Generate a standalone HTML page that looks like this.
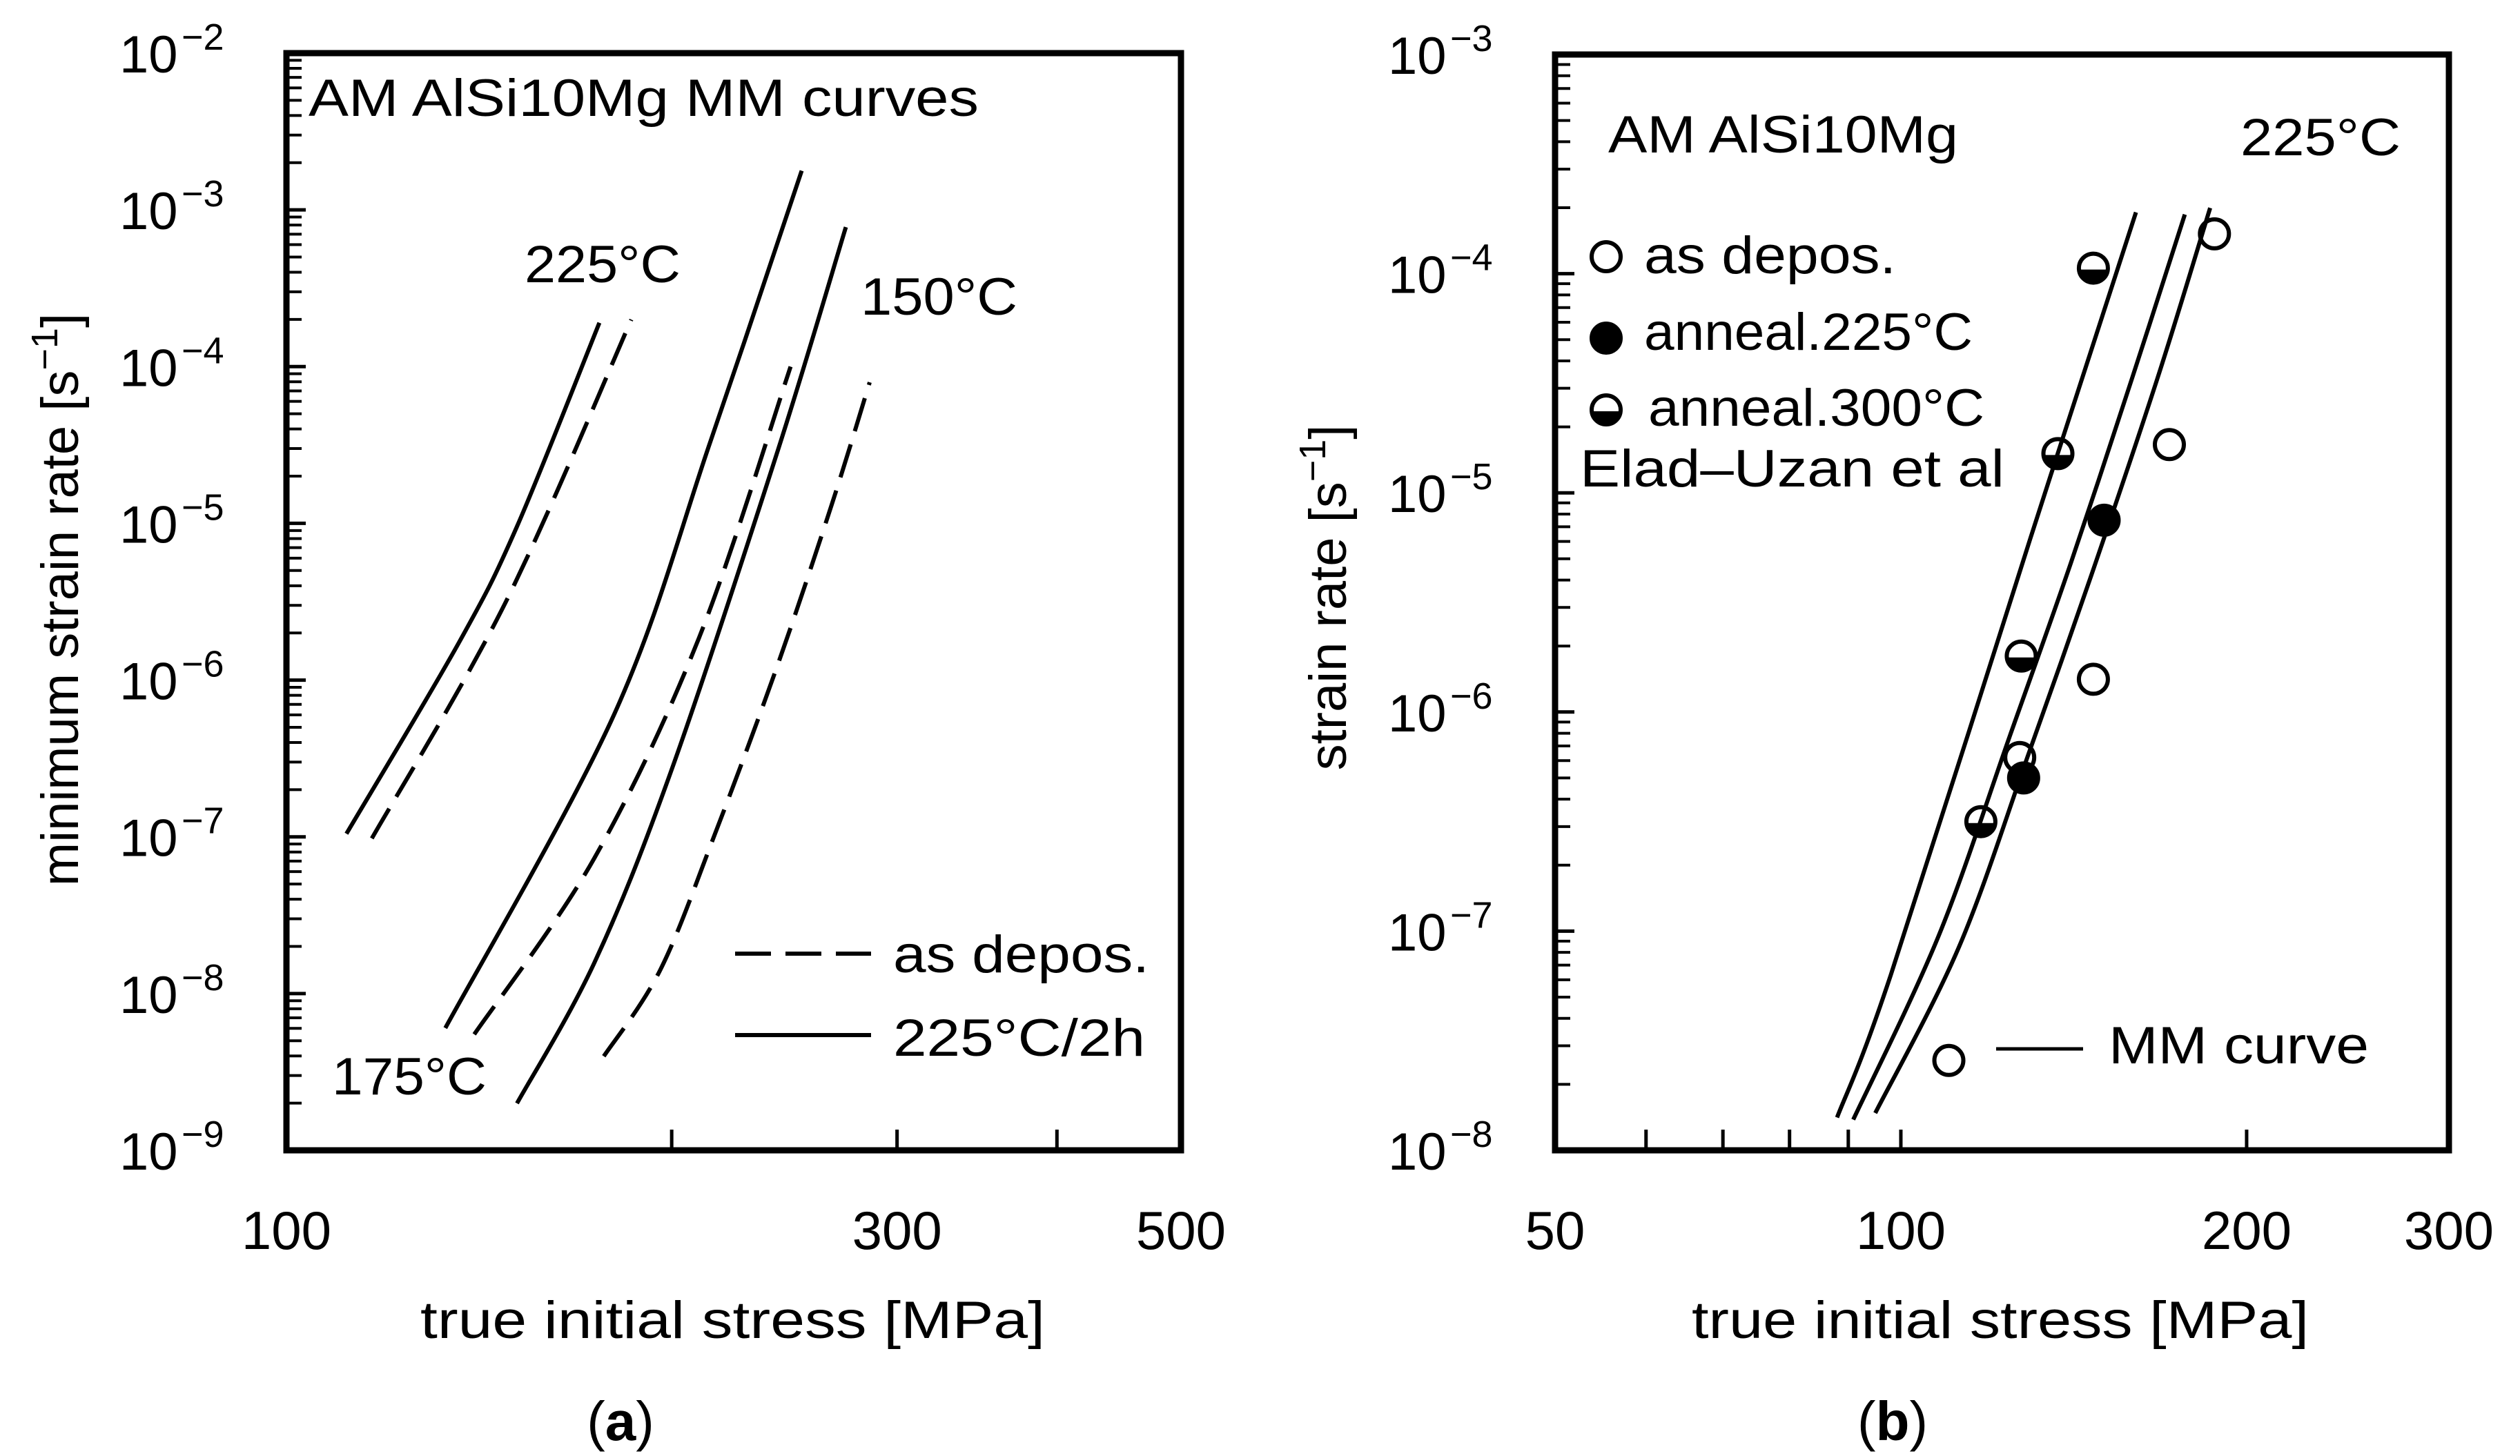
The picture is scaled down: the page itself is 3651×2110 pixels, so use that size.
<!DOCTYPE html>
<html><head><meta charset="utf-8"><style>
html,body{margin:0;padding:0;background:#fff;}
svg{display:block;}
text{font-family:"Liberation Sans",sans-serif;fill:#000;}
</style></head><body>
<svg id="fig" width="3651" height="2110" viewBox="0 0 3651 2110" xmlns="http://www.w3.org/2000/svg">
<rect width="3651" height="2110" fill="#fff"/>
<g id="pa"></g>
<g id="pb"></g>
</svg>
<script>
// ---------- Panel (a) data (log10 of strain rate) ----------
const aXTicks = [200, 300, 400];
const aXLabels = ["100", "300", "500"];
const aXLabelVals = [100, 300, 500];
const aYExps = [-2, -3, -4, -5, -6, -7, -8, -9];
const aSolid225Stress = [111.4, 136.4, 151.4, 175.6];
const aSolid225LogRate = [-6.98, -5.76, -5.02, -3.72];
const aDash225Stress = [116.6, 148.2, 186.0];
const aDash225LogRate = [-7.01, -5.51, -3.70];
const aSolid175Stress = [133.1, 180.3, 214.6, 252.7];
const aSolid175LogRate = [-8.22, -6.22, -4.47, -2.75];
const aDash175Stress = [140.2, 173.9, 210.1, 247.7];
const aDash175LogRate = [-8.26, -7.14, -5.73, -4.00];
const aSolid150Stress = [151.4, 174.1, 200.0, 242.4, 273.6];
const aSolid150LogRate = [-8.70, -7.80, -6.57, -4.52, -3.11];
const aDash150Stress = [177.0, 195.9, 216.0, 241.6, 266.5, 285.6];
const aDash150LogRate = [-8.40, -7.85, -6.99, -5.92, -4.89, -4.10];

// ---------- Panel (b) data ----------
const bXTicks = [60, 70, 80, 90, 100, 200];
const bXLabels = ["50", "100", "200", "300"];
const bXLabelVals = [50, 100, 200, 300];
const bYExps = [-3, -4, -5, -6, -7, -8];
const bCurve1Stress = [88.0, 98.0, 129.6, 160.2];
const bCurve1LogRate = [-7.85, -7.20, -5.21, -3.72];
const bCurve2Stress = [90.9, 107.9, 124.4, 140.6, 158.9, 176.7];
const bCurve2LogRate = [-7.86, -7.02, -6.11, -5.32, -4.48, -3.73];
const bCurve3Stress = [95.0, 112.4, 129.6, 146.4, 167.2, 185.9];
const bCurve3LogRate = [-7.83, -7.07, -6.17, -5.38, -4.48, -3.70];
const bOpenStress = [187.5, 171.3, 147.1, 126.9, 110.1];
const bOpenRate = [1.52e-4, 1.66e-5, 1.41e-6, 6.2e-7, 2.57e-8];
const bFilledStress = [150.3, 127.9];
const bFilledRate = [7.5e-6, 5.0e-7];
const bHalfStress = [147.1, 137.0, 127.3, 117.4];
const bHalfRate = [1.06e-4, 1.51e-5, 1.8e-6, 3.16e-7];

const NS = "http://www.w3.org/2000/svg";
function mk(parent, tag, attrs) {
  const e = document.createElementNS(NS, tag);
  for (const k in attrs) e.setAttribute(k, attrs[k]);
  parent.appendChild(e);
  return e;
}
function axes(x0, x1, y0, y1, xmin, xmax, ymin, ymax) {
  return {
    x: v => x0 + (Math.log10(v) - Math.log10(xmin)) / (Math.log10(xmax) - Math.log10(xmin)) * (x1 - x0),
    y: v => y1 - (Math.log10(v) - Math.log10(ymin)) / (Math.log10(ymax) - Math.log10(ymin)) * (y1 - y0)
  };
}
function smoothPath(pts) {
  let d = "M" + pts[0][0].toFixed(1) + "," + pts[0][1].toFixed(1);
  for (let i = 0; i < pts.length - 1; i++) {
    const p0 = pts[i - 1] || pts[i], p1 = pts[i], p2 = pts[i + 1], p3 = pts[i + 2] || pts[i + 1];
    const c1x = p1[0] + (p2[0] - p0[0]) / 6, c1y = p1[1] + (p2[1] - p0[1]) / 6;
    const c2x = p2[0] - (p3[0] - p1[0]) / 6, c2y = p2[1] - (p3[1] - p1[1]) / 6;
    d += " C" + c1x.toFixed(1) + "," + c1y.toFixed(1) + " " + c2x.toFixed(1) + "," + c2y.toFixed(1) + " " + p2[0].toFixed(1) + "," + p2[1].toFixed(1);
  }
  return d;
}
function txt(parent, x, y, s, size, len, anchor) {
  const a = {x: x, y: y, "font-size": size};
  if (len) { a.textLength = len; a.lengthAdjust = "spacingAndGlyphs"; }
  if (anchor) a["text-anchor"] = anchor;
  const t = mk(parent, "text", a);
  t.textContent = s;
  return t;
}
function frame(g, X0, X1, Y0, Y1, ax, yexps, xticks, xlabelVals, xlabels) {
  const box = mk(g, "rect", {x: X0, y: Y0, width: X1 - X0, height: Y1 - Y0, fill: "none", stroke: "#000", "stroke-width": 9});
  
  
  for (let i = 0; i < yexps.length; i++) {
    const e = yexps[i];
    const yy = ax.y(Math.pow(10, e));
    if (i > 0) {
      const t = mk(g, "line", {x1: X0, x2: X0 + 28, y1: yy, y2: yy, stroke: "#000", "stroke-width": 5});
      
      
    }
    if (i < yexps.length - 1) {
      for (let m = 2; m <= 9; m++) {
        const ym = ax.y(m * Math.pow(10, e - 1));
        const mt = mk(g, "line", {x1: X0, x2: X0 + 22, y1: ym, y2: ym, stroke: "#000", "stroke-width": 4});
        
        
      }
    }
    const lab = mk(g, "text", {x: X0 - 242, y: yy + 28, "font-size": 76});
    
    
    const t1 = mk(lab, "tspan", {});
    t1.textContent = "10";
    const t2 = mk(lab, "tspan", {x: X0 - 152, y: yy - 5, "font-size": 54});
    t2.textContent = "\u2212" + Math.abs(e);
  }
  for (const v of xticks) {
    const xx = ax.x(v);
    const t = mk(g, "line", {x1: xx, x2: xx, y1: Y1, y2: Y1 - 30, stroke: "#000", "stroke-width": 5});
    
    
  }
  for (let i = 0; i < xlabelVals.length; i++) {
    const l = txt(g, ax.x(xlabelVals[i]), 1810, xlabels[i], 78, null, "middle");
    
    
  }
}

// ---------- Panel (a) ----------
(function () {
  const g = document.getElementById("pa");
  const X0 = 415, X1 = 1711, Y0 = 77, Y1 = 1667;
  const ax = axes(X0, X1, Y0, Y1, 100, 500, 1e-9, 1e-2);
  frame(g, X0, X1, Y0, Y1, ax, aYExps, aXTicks, aXLabelVals, aXLabels);
  const series = [
    [aSolid225Stress, aSolid225LogRate, false, "curve-225c-annealed"],
    [aDash225Stress, aDash225LogRate, true, "curve-225c-as-deposited"],
    [aSolid175Stress, aSolid175LogRate, false, "curve-175c-annealed"],
    [aDash175Stress, aDash175LogRate, true, "curve-175c-as-deposited"],
    [aSolid150Stress, aSolid150LogRate, false, "curve-150c-annealed"],
    [aDash150Stress, aDash150LogRate, true, "curve-150c-as-deposited"]
  ];
  for (const s of series) {
    const pts = s[0].map((v, i) => [ax.x(v), ax.y(Math.pow(10, s[1][i]))]);
    const p = mk(g, "path", {d: smoothPath(pts), fill: "none", stroke: "#000", "stroke-width": 6});
    if (s[2]) p.setAttribute("stroke-dasharray", "50 20");
    
    
  }
  let t;
  t = txt(g, 447, 168, "AM AlSi10Mg MM curves", 76, 971);
  
  
  t = txt(g, 760, 409, "225°C", 76, 226);
  
  
  t = txt(g, 1247, 456, "150°C", 76, 227);
  
  
  t = txt(g, 481, 1586, "175°C", 76, 224);
  
  
  const l1 = mk(g, "line", {x1: 1065, x2: 1262, y1: 1382, y2: 1382, stroke: "#000", "stroke-width": 6, "stroke-dasharray": "52 21"});
  
  
  t = txt(g, 1294, 1409, "as depos.", 76, 371);
  
  
  const l2 = mk(g, "line", {x1: 1065, x2: 1262, y1: 1500, y2: 1500, stroke: "#000", "stroke-width": 6});
  
  
  t = txt(g, 1294, 1530, "225°C/2h", 76, 365);
  
  
  t = txt(g, 609, 1939, "true initial stress [MPa]", 76, 905);
  
  
  const yt = mk(g, "text", {x: 0, y: 0, "font-size": 76, "text-anchor": "middle", transform: "translate(113,869) rotate(-90)"});
  
  
  yt.innerHTML = 'minimum strain rate [s<tspan dy="-30" font-size="54">\u22121</tspan><tspan dy="30">]</tspan>';
  const cap = mk(g, "text", {x: 899, y: 2087, "font-size": 80, "text-anchor": "middle", "font-family": "Liberation Serif, serif"});
  cap.innerHTML = '(<tspan font-weight="bold">a</tspan>)';
  
  
})();

// ---------- Panel (b) ----------
(function () {
  const g = document.getElementById("pb");
  const X0 = 2253, X1 = 3548, Y0 = 79, Y1 = 1667;
  const ax = axes(X0, X1, Y0, Y1, 50, 300, 1e-8, 1e-3);
  frame(g, X0, X1, Y0, Y1, ax, bYExps, bXTicks, bXLabelVals, bXLabels);
  const curves = [[bCurve1Stress, bCurve1LogRate, "mm-curve-1"], [bCurve2Stress, bCurve2LogRate, "mm-curve-2"], [bCurve3Stress, bCurve3LogRate, "mm-curve-3"]];
  for (const c of curves) {
    const pts = c[0].map((v, i) => [ax.x(v), ax.y(Math.pow(10, c[1][i]))]);
    const p = mk(g, "path", {d: smoothPath(pts), fill: "none", stroke: "#000", "stroke-width": 6});
    
    
  }
  function marker(cx, cy, kind) {
    const r = 21;
    const grp = mk(g, "g", {});
    if (kind === "half") {
      mk(grp, "path", {d: `M${cx - r},${cy + 2} A${r},${r} 0 0 0 ${cx + r},${cy + 2} Z`, fill: "#000"});
    }
    mk(grp, "circle", {cx: cx, cy: cy, r: r, fill: kind === "filled" ? "#000" : "none", stroke: "#000", "stroke-width": 6});
    return grp;
  }
  for (let i = 0; i < bOpenStress.length; i++) {
    const m = marker(ax.x(bOpenStress[i]), ax.y(bOpenRate[i]), "open");
    
    
  }
  for (let i = 0; i < bFilledStress.length; i++) {
    const m = marker(ax.x(bFilledStress[i]), ax.y(bFilledRate[i]), "filled");
    
    
  }
  for (let i = 0; i < bHalfStress.length; i++) {
    const m = marker(ax.x(bHalfStress[i]), ax.y(bHalfRate[i]), "half");
    
    
  }
  let t, m;
  t = txt(g, 2330, 221, "AM AlSi10Mg", 76, 507);
  
  
  t = txt(g, 3246, 225, "225°C", 76, 232);
  
  
  m = marker(2327, 372, "open");
  
  
  t = txt(g, 2382, 396, "as depos.", 76, 365);
  
  
  m = marker(2327, 490, "filled");
  
  
  t = txt(g, 2382, 507, "anneal.225°C", 76, 476);
  
  
  m = marker(2327, 594, "half");
  
  
  t = txt(g, 2388, 617, "anneal.300°C", 76, 487);
  
  
  t = txt(g, 2289, 705, "Elad\u2013Uzan et al", 76, 615);
  
  
  const ll = mk(g, "line", {x1: 2892, x2: 3018, y1: 1520, y2: 1520, stroke: "#000", "stroke-width": 5});
  
  
  t = txt(g, 3055, 1541, "MM curve", 76, 377);
  
  
  t = txt(g, 2451, 1939, "true initial stress [MPa]", 76, 894);
  
  
  const yt = mk(g, "text", {x: 0, y: 0, "font-size": 76, "text-anchor": "middle", transform: "translate(1950,866) rotate(-90)"});
  
  
  yt.innerHTML = 'strain rate [s<tspan dy="-30" font-size="54">\u22121</tspan><tspan dy="30">]</tspan>';
  const cap = mk(g, "text", {x: 2742, y: 2087, "font-size": 80, "text-anchor": "middle", "font-family": "Liberation Serif, serif"});
  cap.innerHTML = '(<tspan font-weight="bold">b</tspan>)';
  
  
})();
</script>
</body></html>
